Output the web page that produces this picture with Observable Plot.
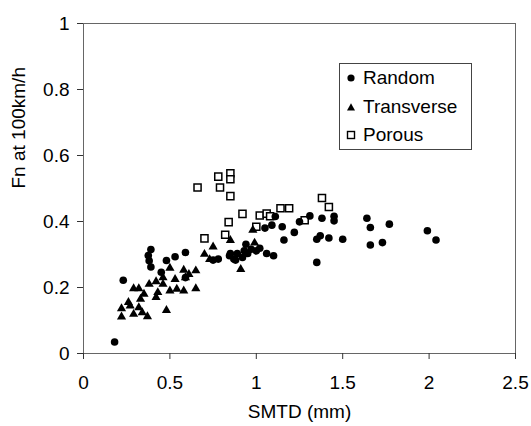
<!DOCTYPE html>
<html>
<head>
<meta charset="utf-8">
<script src="https://cdn.jsdelivr.net/npm/d3@7"></script>
<script src="https://cdn.jsdelivr.net/npm/@observablehq/plot@0.6"></script>
<style>
  body { margin: 0; background: #fff; }
  #wrap { position: relative; width: 531px; height: 426px; font-family: "Liberation Sans", Arial, sans-serif; }
  #legend { position: absolute; left: 339px; top: 63px; width: 131px; height: 85px; border: 1px solid #444; background: #fff; }
  #legend .row { position: absolute; left: 0; height: 24px; display: flex; align-items: center; font-size: 19px; color: #000; }
  #legend svg { margin-left: 6px; margin-right: 7px; }
</style>
</head>
<body>
<div id="wrap"></div>
<script>
const seriesNames = ["Random", "Transverse", "Porous"];

const randomX = [0.18,0.23,0.39,0.375,0.38,0.39,0.45,0.48,0.53,0.59,0.59,0.75,0.78,0.845,0.85,0.87,0.88,0.89,0.92,0.93,0.94,0.95,0.97,1.00,1.02,1.06,1.10,1.05,1.09,1.11,1.15,1.16,1.22,1.25,1.31,1.35,1.35,1.37,1.38,1.42,1.45,1.45,1.50,1.64,1.66,1.66,1.73,1.77,1.99,2.04];
const randomY = [0.035,0.222,0.315,0.297,0.281,0.262,0.246,0.282,0.293,0.306,0.23,0.283,0.286,0.296,0.303,0.286,0.283,0.303,0.291,0.311,0.331,0.303,0.316,0.311,0.319,0.303,0.296,0.380,0.389,0.415,0.384,0.344,0.367,0.399,0.417,0.276,0.346,0.357,0.410,0.350,0.416,0.402,0.346,0.410,0.382,0.329,0.336,0.392,0.372,0.344];

const transX = [0.22,0.22,0.26,0.29,0.32,0.29,0.32,0.33,0.35,0.34,0.37,0.27,0.38,0.42,0.42,0.43,0.46,0.46,0.48,0.50,0.50,0.53,0.54,0.58,0.58,0.59,0.61,0.65,0.65,0.70,0.75,0.73,0.85,0.91,0.98,0.99];
const transY = [0.111,0.136,0.155,0.197,0.197,0.119,0.139,0.165,0.180,0.124,0.112,0.144,0.210,0.218,0.170,0.185,0.230,0.210,0.131,0.259,0.190,0.225,0.195,0.190,0.253,0.230,0.240,0.251,0.197,0.301,0.323,0.285,0.343,0.255,0.374,0.335];

const porousX = [0.66,0.78,0.79,0.85,0.85,0.85,0.70,0.82,0.84,0.92,1.00,1.02,1.06,1.08,1.14,1.19,1.28,1.38,1.42];
const porousY = [0.503,0.536,0.503,0.546,0.528,0.477,0.349,0.360,0.398,0.423,0.384,0.418,0.424,0.416,0.440,0.440,0.404,0.471,0.444];

const xTicks = [0, 0.5, 1, 1.5, 2, 2.5];
const yTicks = [0, 0.2, 0.4, 0.6, 0.8, 1];
const xLabel = "SMTD (mm)";
const yLabel = "Fn at 100km/h";

const toRows = (xs, ys, s) => xs.map((x, i) => ({x, y: ys[i], s}));
const random = toRows(randomX, randomY, seriesNames[0]);
const trans = toRows(transX, transY, seriesNames[1]);
const porous = toRows(porousX, porousY, seriesNames[2]);

const chart = Plot.plot({
  width: 531,
  height: 426,
  marginLeft: 83,
  marginRight: 16,
  marginTop: 23,
  marginBottom: 73,
  style: {fontFamily: "'Liberation Sans', Arial, sans-serif", fontSize: "19px", color: "#000", background: "#fff"},
  x: {domain: [0, 2.5]},
  y: {domain: [0, 1]},
  marks: [
    Plot.frame({stroke: "#666", strokeWidth: 1}),
    Plot.axisX({ticks: xTicks, tickFormat: d => String(d), tickSize: 6, tickPadding: 16, stroke: "#333", label: null, fontSize: 19}),
    Plot.axisY({ticks: yTicks, tickFormat: d => String(d), tickSize: 6, tickPadding: 8, stroke: "#333", label: null, fontSize: 19}),
    Plot.text([xLabel], {frameAnchor: "bottom", dy: 64, fontSize: 19, fill: "#000"}),
    Plot.text([yLabel], {frameAnchor: "left", dx: -65, rotate: -90, fontSize: 19, fill: "#000"}),
    Plot.dot(porous, {x: "x", y: "y", symbol: "square", r: 4, fill: "#fff", stroke: "#000", strokeWidth: 1.5}),
    Plot.dot(trans, {x: "x", y: "y", symbol: "triangle", r: 3.4, fill: "#000", stroke: "none"}),
    Plot.dot(random, {x: "x", y: "y", symbol: "circle", r: 3.8, fill: "#000", stroke: "none"})
  ]
});

const wrap = document.getElementById("wrap");
wrap.appendChild(chart);

// legend box
const legend = document.createElement("div");
legend.id = "legend";
const symSvg = {
  Random: '<svg width="10" height="10"><circle cx="5" cy="5" r="3.6" fill="#000"/></svg>',
  Transverse: '<svg width="10" height="10"><path d="M5,1.2L9,8.6L1,8.6Z" fill="#000"/></svg>',
  Porous: '<svg width="10" height="10"><rect x="1.5" y="1.5" width="7" height="7" fill="#fff" stroke="#000" stroke-width="1.4"/></svg>'
};
const rowTops = [2, 31, 59];
seriesNames.forEach((name, i) => {
  const row = document.createElement("div");
  row.className = "row";
  row.style.top = rowTops[i] + "px";
  row.innerHTML = symSvg[name] + '<span>' + name + '</span>';
  legend.appendChild(row);
});
wrap.appendChild(legend);
</script>
</body>
</html>
